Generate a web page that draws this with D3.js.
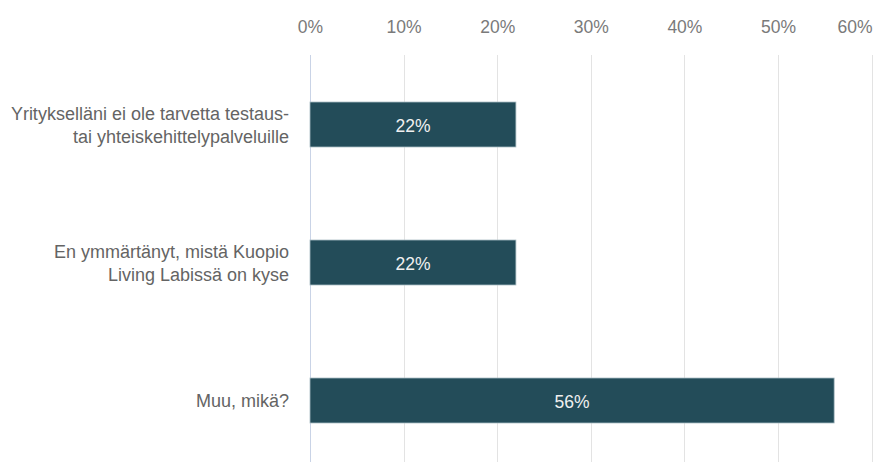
<!DOCTYPE html>
<html>
<head>
<meta charset="utf-8">
<script src="https://cdn.jsdelivr.net/npm/d3@7"></script>
<style>
  html, body { margin: 0; padding: 0; background: #fff; }
  svg { display: block; font-family: "Liberation Sans", Arial, sans-serif; }
</style>
</head>
<body>
<svg id="chart" width="874" height="462"></svg>
<script>
// Survey answers: why the company has not used the Living Lab services
const categories = [
  ["Yritykselläni ei ole tarvetta testaus-", "tai yhteiskehittelypalveluille"],
  ["En ymmärtänyt, mistä Kuopio", "Living Labissä on kyse"],
  ["Muu, mikä?"]
];
const shares = [0.22, 0.22, 0.56];
const tickValues = [0, 0.1, 0.2, 0.3, 0.4, 0.5, 0.6];
const tickLabels = ["0%", "10%", "20%", "30%", "40%", "50%", "60%"];

const W = 874, H = 462;
const FONT = "'Liberation Sans', Arial, sans-serif";
const svg = d3.select("#chart");

const x = d3.scaleLinear().domain([0, 0.6]).range([310, 871.6]);
const keys = categories.map((c, i) => i);
const y = d3.scaleBand().domain(keys).range([55.5, 469.5])
  .paddingInner(0.674).paddingOuter(0.337);

// vertical gridlines
svg.append("g").selectAll("line").data(tickValues).join("line")
  .attr("x1", d => Math.round(x(d)) + 0.5)
  .attr("x2", d => Math.round(x(d)) + 0.5)
  .attr("y1", 55).attr("y2", H)
  .attr("stroke", (d, i) => i === 0 ? "#c9d3e6" : "#e3e3e3")
  .attr("stroke-width", 1);

// top axis labels
const axis = d3.axisTop(x).tickValues(tickValues)
  .tickFormat((d, i) => tickLabels[i]).tickSize(0).tickPadding(0);
const ax = svg.append("g").attr("transform", "translate(0,33)").call(axis);
ax.select(".domain").remove();
ax.selectAll("text")
  .attr("font-size", 17.5)
  .attr("fill", "#7a7a7a")
  .attr("font-family", FONT)
  .attr("dy", 0)
  .attr("text-anchor", (d, i) => i === tickValues.length - 1 ? "end" : "middle")
  .attr("dx", (d, i) => i === tickValues.length - 1 ? (W - 2 - x(d)) : 0);

// bars
svg.append("g").selectAll("rect").data(shares).join("rect")
  .attr("x", x(0))
  .attr("y", (d, i) => y(i))
  .attr("width", d => x(d) - x(0))
  .attr("height", y.bandwidth())
  .attr("fill", "#234c59")
  .attr("stroke", "#a9bcc3")
  .attr("stroke-width", 0.8);

// value labels inside bars
svg.append("g").selectAll("text").data(shares).join("text")
  .attr("x", d => (x(0) + x(d)) / 2)
  .attr("y", (d, i) => y(i) + y.bandwidth() / 2)
  .attr("dy", "0.42em")
  .attr("text-anchor", "middle")
  .attr("font-size", 17.5)
  .attr("fill", "#f0f0f0")
  .text(d => Math.round(d * 100) + "%");

// category labels
const lineH = 22.5;
const lab = svg.append("g").selectAll("text").data(categories).join("text")
  .attr("text-anchor", "end")
  .attr("font-size", 18)
  .attr("fill", "#646464")
  .attr("y", (d, i) => y(i) + y.bandwidth() / 2);
lab.each(function(lines) {
  const t = d3.select(this);
  const cy = +t.attr("y");
  lines.forEach((s, j) => {
    t.append("tspan")
      .attr("x", 289)
      .attr("y", cy + (j - (lines.length - 1) / 2) * lineH)
      .attr("dy", "0.38em")
      .text(s);
  });
});
</script>
</body>
</html>
